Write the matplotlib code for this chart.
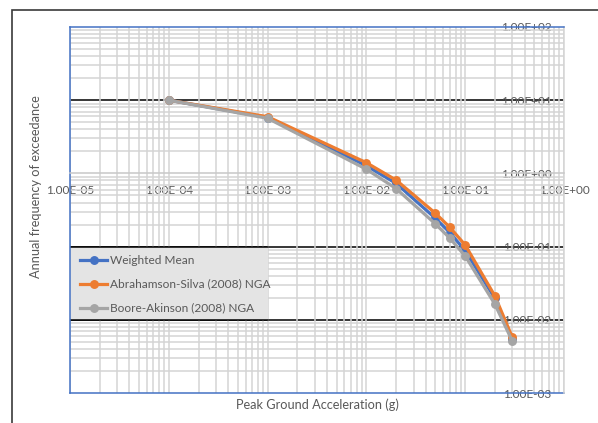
import matplotlib
matplotlib.use("Agg")
import matplotlib.pyplot as plt
import matplotlib.transforms as mtransforms
from matplotlib.ticker import LogLocator, FuncFormatter, NullFormatter, FixedLocator
from matplotlib.patches import Rectangle
from matplotlib.lines import Line2D

# Hazard curves: annual frequency of exceedance vs. peak ground acceleration
pga = [1e-4, 1e-3, 1e-2, 2e-2, 5e-2, 7e-2, 1e-1, 2e-1, 3e-1]
weighted_mean = [10.0, 5.8, 1.27, 0.73, 0.243, 0.155, 0.088, 0.0196, 0.0054]
abrahamson_silva = [10.0, 5.95, 1.40, 0.81, 0.285, 0.183, 0.105, 0.0211, 0.00576]
boore_akinson = [10.0, 5.66, 1.14, 0.62, 0.204, 0.130, 0.0744, 0.0163, 0.0051]

series_names = ["Weighted Mean", "Abrahamson-Silva (2008) NGA", "Boore-Akinson (2008) NGA"]
series_values = [weighted_mean, abrahamson_silva, boore_akinson]
series_colors = ["#4472C4", "#ED7D31", "#A5A5A5"]

x_ticks = [1e-5, 1e-4, 1e-3, 1e-2, 1e-1, 1e0]
y_ticks = [1e-3, 1e-2, 1e-1, 1e0, 1e1, 1e2]
black_levels = [1e1, 1e-1, 1e-2]

plt.rcParams['font.family'] = ['Lato', 'DejaVu Sans']
TEXT = "#595959"
GRID = "#d4d4d4"
BORDER_BLUE = "#4472C4"

W, H = 598, 423
fig = plt.figure(figsize=(W / 100, H / 100), dpi=100)
ax = fig.add_axes([70 / W, 1 - 393 / H, 494 / W, 366 / H])

ax.set_xscale('log')
ax.set_yscale('log')
ax.set_xlim(x_ticks[0], x_ticks[-1])
ax.set_ylim(y_ticks[0], y_ticks[-1])

sci = FuncFormatter(lambda v, p: f"{v:.2E}")
ax.xaxis.set_major_locator(FixedLocator(x_ticks))
ax.yaxis.set_major_locator(FixedLocator(y_ticks))
ax.xaxis.set_minor_locator(LogLocator(base=10, subs=range(2, 10), numticks=20))
ax.yaxis.set_minor_locator(LogLocator(base=10, subs=range(2, 10), numticks=20))
ax.xaxis.set_major_formatter(sci)
ax.yaxis.set_major_formatter(sci)
ax.xaxis.set_minor_formatter(NullFormatter())
ax.yaxis.set_minor_formatter(NullFormatter())

# Gridlines
ax.set_axisbelow(True)
ax.grid(which='minor', axis='both', color=GRID, lw=1.1)
ax.grid(which='major', axis='x', color=GRID, lw=1.1)
for lvl in black_levels:
    ax.axhline(lvl, color='black', lw=1.1, zorder=0.4)

# Horizontal axis crosses at y = 1, vertical axis labels sit at x = 1
ax.spines['bottom'].set_position(('data', 1.0))
ax.spines['bottom'].set_color("#c8c8c8")
ax.spines['bottom'].set_linewidth(1.1)
ax.spines['right'].set_color(GRID)
ax.spines['right'].set_linewidth(1.1)
for s in ('left', 'top'):
    ax.spines[s].set_color(BORDER_BLUE)
    ax.spines[s].set_linewidth(1.1)
ax.plot([0, 1], [0, 0], transform=ax.transAxes, color=BORDER_BLUE, lw=1.1,
        clip_on=False, zorder=2.5)

ax.yaxis.tick_right()
ax.tick_params(axis='both', which='both', length=0, labelsize=8.5, labelcolor=TEXT)
ax.tick_params(axis='x', pad=8)
ax.tick_params(axis='y', pad=-9)
for lbl in ax.yaxis.get_ticklabels():
    lbl.set_horizontalalignment('right')

# Series
for i, (name, vals, col) in enumerate(zip(series_names, series_values, series_colors)):
    ax.plot(pga, vals, '-o', color=col, lw=2.3, ms=5.4, zorder=3 + i, label=name)

# Legend panel between the 1E-02 and 1E-01 lines
blend = mtransforms.blended_transform_factory(ax.transAxes, ax.transData)
leg_w = (268 - 70) / 494
ax.add_patch(Rectangle((0, black_levels[2]), leg_w, black_levels[1] - black_levels[2],
                       transform=blend, facecolor="#e4e4e4", edgecolor='none', zorder=1))
for lvl in black_levels[1:]:
    ax.plot([0, leg_w], [lvl, lvl], transform=blend, color='black', lw=1.1, zorder=1.1)
entry_y = [(393 - 260) / 366, (393 - 284) / 366, (393 - 308) / 366]
hx0, hx1 = (80 - 70) / 494, (107 - 70) / 494
for name, col, yy in zip(series_names, series_colors, entry_y):
    ax.add_line(Line2D([hx0, hx1], [yy, yy], transform=ax.transAxes, color=col,
                       lw=2.3, zorder=1.2))
    ax.add_line(Line2D([(hx0 + hx1) / 2], [yy], transform=ax.transAxes, color=col,
                       marker='o', ms=5.4, zorder=1.2))
    ax.text((110 - 70) / 494, yy, name, transform=ax.transAxes, ha='left', va='center',
            fontsize=8.6, color=TEXT, zorder=1.2)

# Axis titles
fig.text(36 / W, 1 - 187 / H, "Annual frequency of exceedance", rotation=90,
         ha='center', va='center', fontsize=9.2, color=TEXT)
fig.text(317 / W, 1 - 405 / H, "Peak Ground Acceleration (g)",
         ha='center', va='center', fontsize=9.2, color=TEXT)

# Chart area border
fig.add_artist(Rectangle((12 / W, -0.1), 2.0, (H - 10) / H + 0.1, transform=fig.transFigure,
                         fill=False, edgecolor="#3a3a3a", lw=1.2, clip_on=False))

fig.savefig("out.png", dpi=100)
